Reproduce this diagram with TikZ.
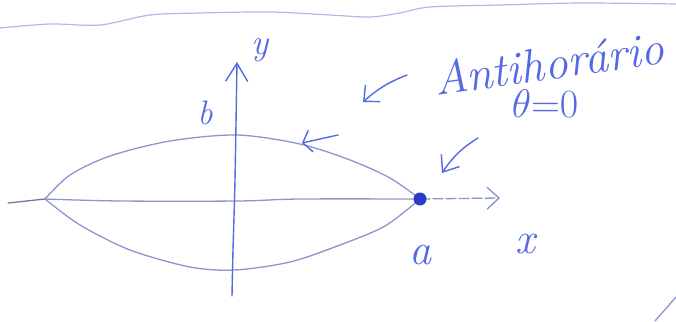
\documentclass[tikz,border=0pt]{standalone}
\usepackage{fix-cm}
\usepackage{fontspec}
\usetikzlibrary{arrows.meta}
\definecolor{ink}{RGB}{85,105,230}
\definecolor{pale}{RGB}{140,148,210}
\definecolor{dotc}{RGB}{40,60,200}
\definecolor{edge}{RGB}{175,185,225}
\tikzset{
  pen/.style={draw=pale, line width=1.3pt, line cap=round, line join=round},
  inkpen/.style={draw=ink, line width=1.4pt, line cap=round, line join=round},
  hand/.style={text=ink, inner sep=0pt},
  barb/.style={-{Straight Barb[length=#1, width=22pt, line width=1.4pt]}},
}
\begin{document}
\begin{tikzpicture}[x=1pt,y=-1pt]
\useasboundingbox (0,0) rectangle (676,321);
% paper edge
\draw[draw=edge, line width=1.2pt] plot[smooth] coordinates {(0,28) (50,24) (100,25) (150,15) (200,13) (270,12) (330,15) (370,17) (400,13) (430,7) (500,5) (580,3) (676,4)};
% key points
\coordinate (L) at (45,199);
\coordinate (T) at (237,135);
\coordinate (R) at (420,199);
\coordinate (B) at (235,270);
\coordinate (xs) at (8,203);
\coordinate (xe) at (500,198);
\coordinate (ys) at (232,296);
\coordinate (ye) at (237,62);
% ellipse
\draw[pen] plot[smooth] coordinates {(L) (70,175) (110,156) (170,141) (T) (300,144) (350,160) (390,178) (R)};
\draw[pen] plot[smooth] coordinates {(L) (80,225) (130,250) (190,267) (B) (290,262) (340,245) (385,226) (R)};
% x axis
\draw[pen, draw=pale!80!black] (xs) -- (L);
\draw[pen] plot[smooth] coordinates {(L) (120,201) (238,201) (300,199) (R)};
\draw[pen, dash pattern=on 10pt off 3pt, barb=12pt] (R) -- (xe);
% y axis
\draw[inkpen, barb=18pt] plot[smooth] coordinates {(ys) (233,250) (235,180) (ye)};
% point
\node[circle, fill=dotc, minimum size=13pt, inner sep=0pt] (dot) at (R) {};
% direction arrow on ellipse
\coordinate (dirA) at (338,135);
\coordinate (dirB) at (302,143);
\draw[inkpen, -{Straight Barb[length=8pt, width=22pt, line width=1.4pt]}] (dirA) -- (dirB);
% labels
\node[hand, font=\itshape\fontsize{36}{36}\selectfont] (ylab) at (260,50) {y};
\node[hand, font=\itshape\fontsize{34}{34}\selectfont] (blab) at (205,113) {b};
\node[hand, font=\itshape\fontsize{44}{44}\selectfont] (alab) at (420,255) {a};
\node[hand, font=\itshape\fontsize{44}{44}\selectfont] (xlab) at (525,244) {x};
\node[hand, font=\itshape\fontsize{47}{47}\selectfont, rotate=8] (anti) at (549,63) {Antihorário};
\node[hand, font=\itshape\fontsize{40}{40}\selectfont] (theta) at (545,104) {$\theta{=}0$};
% pointer arrows
\coordinate (p1s) at (407,75);
\coordinate (p1e) at (363,102);
\draw[inkpen, barb=12pt] (p1s) to[bend right=10] (p1e);
\coordinate (p2s) at (478,138);
\coordinate (p2e) at (442,173);
\draw[inkpen, barb=14pt] (p2s) to[bend right=12] (p2e);
% stray stroke bottom right
\coordinate (s1) at (655,321);
\coordinate (s2) at (676,297);
\draw[pen] (s1) -- (s2);
\end{tikzpicture}
\end{document}
